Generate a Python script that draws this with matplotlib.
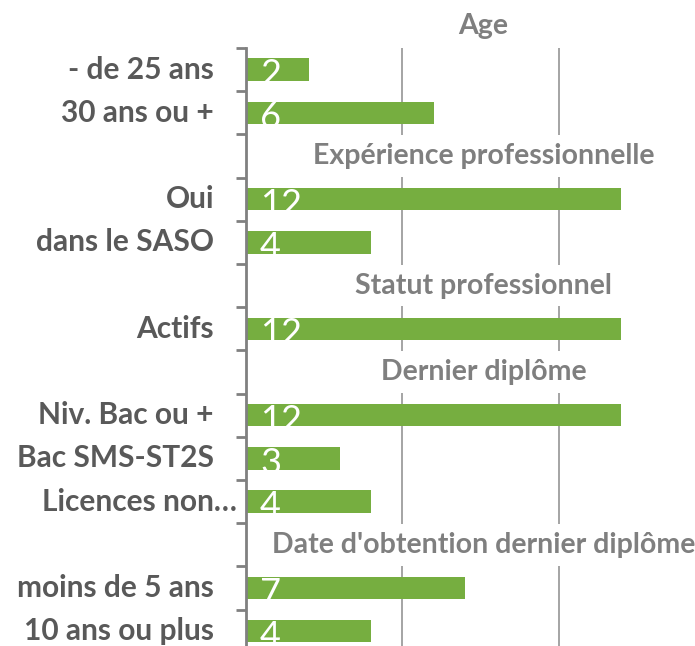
import matplotlib
matplotlib.use("Agg")
import matplotlib.pyplot as plt
from matplotlib.patches import Rectangle
from matplotlib.transforms import ScaledTranslation, blended_transform_factory

# ---------------- data ----------------
headers = ["Age", "Expérience professionnelle", "Statut professionnel",
           "Dernier diplôme", "Date d'obtention dernier diplôme"]
categories = ["- de 25 ans", "30 ans ou +", "Oui", "dans le SASO", "Actifs",
              "Niv. Bac ou +", "Bac SMS-ST2S", "Licences non…",
              "moins de 5 ans", "10 ans ou plus"]
values = [2, 6, 12, 4, 12, 12, 3, 4, 7, 4]
groups = [0, 0, 1, 1, 2, 3, 3, 3, 4, 4]
grid_ticks = [5, 10]
x_max = 14

# ---------------- styles ----------------
GREEN = "#76AE40"
LABEL_COLOR = "#595959"
HEADER_COLOR = "#7F7F7F"
AXIS_COLOR = "#808080"
GRID_COLOR = "#8C8C8C"
FONT = "Lato"

# ---------------- row layout ----------------
header_rows = []
cat_rows = [None] * len(categories)
r = 0
for g in range(len(headers)):
    header_rows.append(r)
    r += 1
    for i, gg in enumerate(groups):
        if gg == g:
            cat_rows[i] = r
            r += 1
n_rows = r

W, H = 695, 646
fig = plt.figure(figsize=(W / 100, H / 100), dpi=100)
row_px = 43.2
top_px = 48
left_px = 246
unit_px = 31.25
ax = fig.add_axes([left_px / W,
                   (H - (top_px + (n_rows - 1) * row_px)) / H,
                   x_max * unit_px / W,
                   (n_rows - 1) * row_px / H])

ax.set_xlim(0, x_max)
ax.set_ylim(n_rows - 0.5, 0.5)

bars = ax.barh(cat_rows, values, height=0.52, color=GREEN, zorder=2)

# grid
ax.set_xticks(grid_ticks)
ax.tick_params(axis="x", length=0, labelbottom=False)
ax.set_axisbelow(True)
ax.xaxis.grid(True, color=GRID_COLOR, lw=1.1)

# spines
for s in ["top", "right", "bottom"]:
    ax.spines[s].set_visible(False)
ax.spines["left"].set_color(AXIS_COLOR)
ax.spines["left"].set_linewidth(2.0)

# y ticks at row boundaries
ax.set_yticks([k + 0.5 for k in range(n_rows - 1)])
ax.set_yticklabels([])
ax.tick_params(axis="y", length=7.5, width=2.0, color=AXIS_COLOR, direction="out")

# category labels
base = blended_transform_factory(ax.transAxes, ax.transData)
for lab, row in zip(categories, cat_rows):
    off = -9 if lab.endswith("…") else -32
    tr = base + ScaledTranslation(off / 100, 0, fig.dpi_scale_trans)
    ax.text(0, row, lab, transform=tr, ha="right", va="center",
            fontsize=21.5, fontweight="bold", color=LABEL_COLOR, family=FONT,
            clip_on=False)

# value labels (white, clipped to bars)
for b, v, row in zip(bars, values, cat_rows):
    t = ax.text(0.45, row + 0.36, str(v), ha="left", va="baseline",
                fontsize=26, color="white", family=FONT, zorder=3)
    t.set_clip_path(b)

# headers
header_center = 7.6
htexts = []
for h, row in zip(headers, header_rows):
    t = ax.text(header_center, row, h, ha="center", va="center",
                fontsize=20.5, fontweight="bold", color=HEADER_COLOR,
                family=FONT, zorder=6, clip_on=False)
    htexts.append((t, row))

fig.canvas.draw()
renderer = fig.canvas.get_renderer()
inv = ax.transData.inverted()
for t, row in htexts:
    bb = t.get_window_extent(renderer)
    x0 = inv.transform((bb.x0 - 24, 0))[0]
    x1 = inv.transform((bb.x1 + 6, 0))[0]
    ax.add_patch(Rectangle((x0, row - 0.48), x1 - x0, 0.96, fc="white",
                           ec="none", zorder=5, clip_on=False))

fig.savefig("out.png", dpi=100)
